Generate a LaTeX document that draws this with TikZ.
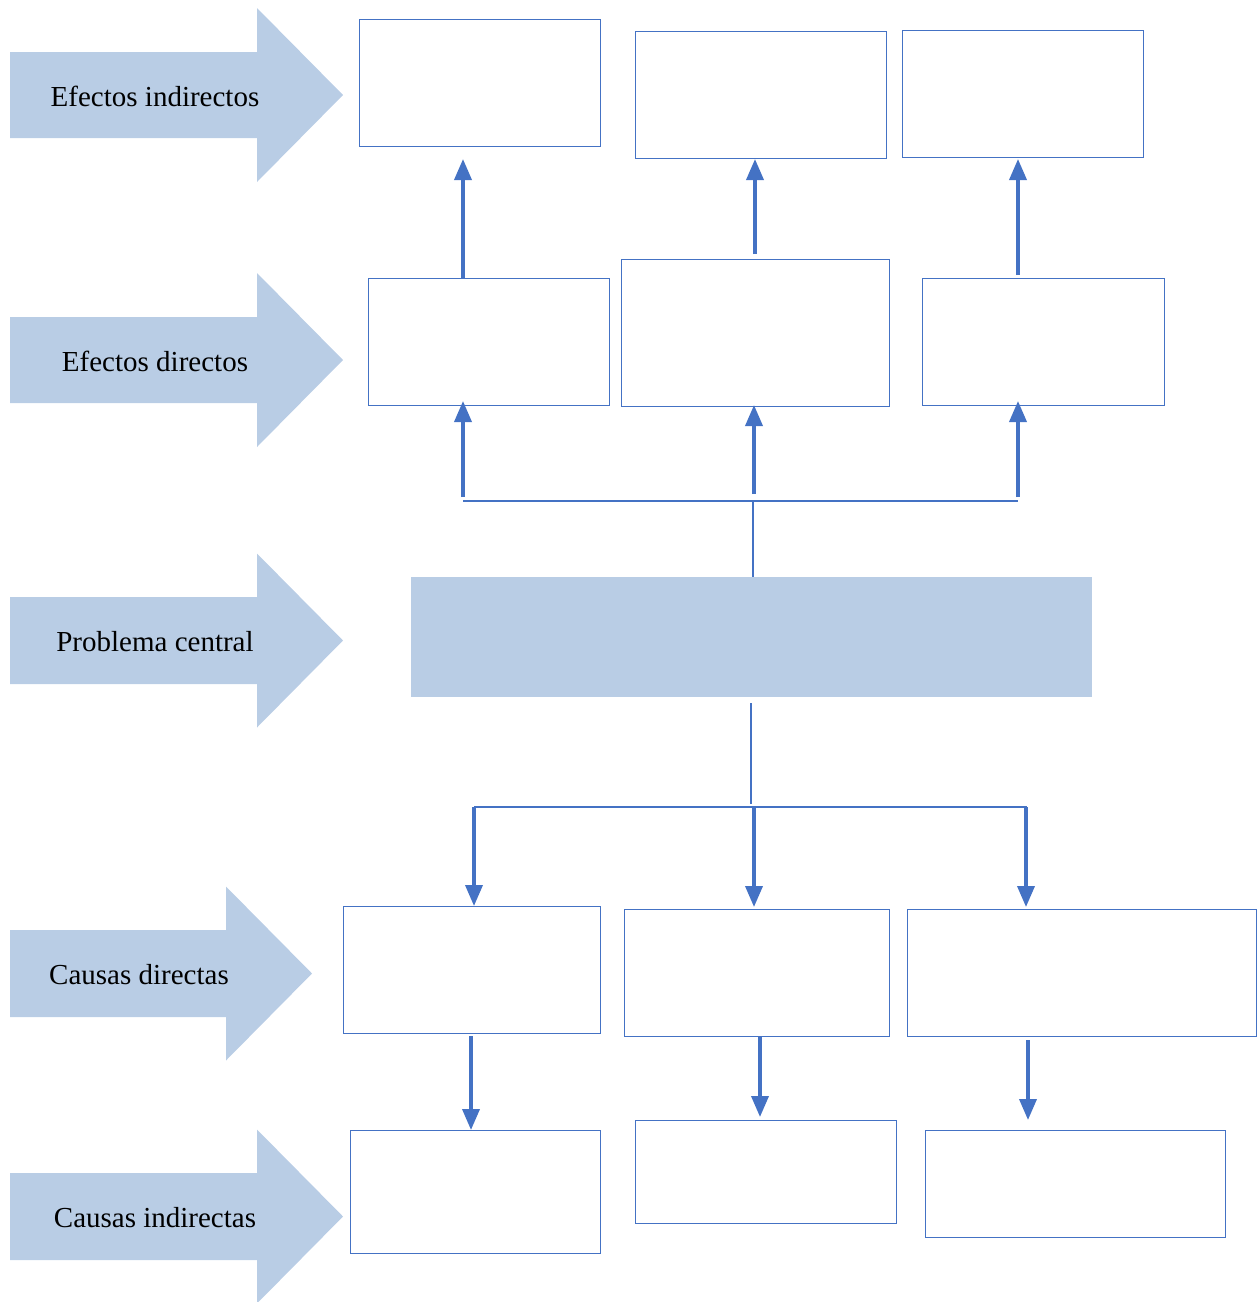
\documentclass[tikz,border=0pt]{standalone}
\usepackage{fontspec}
\setmainfont{Liberation Serif}
\usetikzlibrary{arrows.meta}
\definecolor{edge}{HTML}{4472C4}
\definecolor{pale}{HTML}{B9CDE5}
\tikzset{
  emptybox/.style={draw=edge, line width=1pt, fill=white},
  lbl/.style={font=\fontsize{29}{34}\selectfont, text=black},
  thick arrow/.style={draw=edge, line width=3.6pt, -{Triangle[length=21pt,width=17pt]}},
  thin line/.style={draw=edge, line width=1.1pt},
}
\newcommand{\blockarrow}[6]{% x0, xneck, xtip, ybodytop, ybodybot, headhalf
  \fill[pale] (#1,#4) -- (#2,#4) -- (#2,{(#4+#5)/2-#6}) -- (#3,{(#4+#5)/2}) -- (#2,{(#4+#5)/2+#6}) -- (#2,#5) -- (#1,#5) -- cycle;}
\begin{document}
\begin{tikzpicture}[x=1pt,y=-1pt]
\useasboundingbox (0,0) rectangle (1259,1302);
% big arrows
\blockarrow{10}{257}{343}{52}{138}{87}
\blockarrow{10}{257}{343}{317}{403}{87}
\blockarrow{10}{257}{343}{597}{684}{87}
\blockarrow{10}{226}{312}{930}{1017}{87}
\blockarrow{10}{257}{343}{1173}{1260}{87}
\node[lbl] (t1) at (155,96) {Efectos indirectos};
\node[lbl] (t2) at (155,361) {Efectos directos};
\node[lbl] (t3) at (155,642) {Problema central};
\node[lbl] (t4) at (139,975) {Causas directas};
\node[lbl] (t5) at (155,1218) {Causas indirectas};
% row 1 (efectos indirectos)
\draw[emptybox] (359,19) rectangle (600,146) coordinate (a1);
\draw[emptybox] (635,31) rectangle (886,158) coordinate (a2);
\draw[emptybox] (902,30) rectangle (1143,157) coordinate (a3);
% row 2 (efectos directos)
\draw[emptybox] (368,278) rectangle (609,405) coordinate (b1);
\draw[emptybox] (621,259) rectangle (889,406) coordinate (b2);
\draw[emptybox] (922,278) rectangle (1164,405) coordinate (b3);
% central problem
\fill[pale] (411,577) rectangle (1092,697) coordinate (pc);
% causas directas
\draw[emptybox] (343,906) rectangle (600,1033) coordinate (c1);
\draw[emptybox] (624,909) rectangle (889,1036) coordinate (c2);
\draw[emptybox] (907,909) rectangle (1256,1036) coordinate (c3);
% causas indirectas
\draw[emptybox] (350,1130) rectangle (600,1253) coordinate (d1);
\draw[emptybox] (635,1120) rectangle (896,1223) coordinate (d2);
\draw[emptybox] (925,1130) rectangle (1225,1237) coordinate (d3);
% connector coordinates
\coordinate (u1s) at (463,278); \coordinate (u1e) at (463,159);
\coordinate (u2s) at (755,254); \coordinate (u2e) at (755,159);
\coordinate (u3s) at (1018,275); \coordinate (u3e) at (1018,159);
\coordinate (v1s) at (463,497); \coordinate (v1e) at (463,401);
\coordinate (v2s) at (754,494); \coordinate (v2e) at (754,405);
\coordinate (v3s) at (1018,497); \coordinate (v3e) at (1018,401);
\coordinate (hL) at (463,501); \coordinate (hR) at (1018,501);
\coordinate (hM) at (753,501); \coordinate (pcTop) at (753,577);
\coordinate (pcBot) at (751,703); \coordinate (jM) at (751,804);
\coordinate (kL) at (474,807); \coordinate (kR) at (1027,807);
\coordinate (w1s) at (474,807); \coordinate (w1e) at (474,906);
\coordinate (w2s) at (754,807); \coordinate (w2e) at (754,907);
\coordinate (w3s) at (1026,807); \coordinate (w3e) at (1026,907);
\coordinate (z1s) at (471,1036); \coordinate (z1e) at (471,1130);
\coordinate (z2s) at (760,1036); \coordinate (z2e) at (760,1117);
\coordinate (z3s) at (1028,1040); \coordinate (z3e) at (1028,1120);
% thin connectors
\draw[thin line] (hL) -- (hR);
\draw[thin line] (hM) -- (pcTop);
\draw[thin line] (pcBot) -- (jM);
\draw[thin line] (kL) -- (kR);
% thick arrows
\foreach \p in {u1,u2,u3,v1,v2,v3,w1,w2,w3,z1,z2,z3}
  \draw[thick arrow] (\p s) -- (\p e);
\end{tikzpicture}
\end{document}
